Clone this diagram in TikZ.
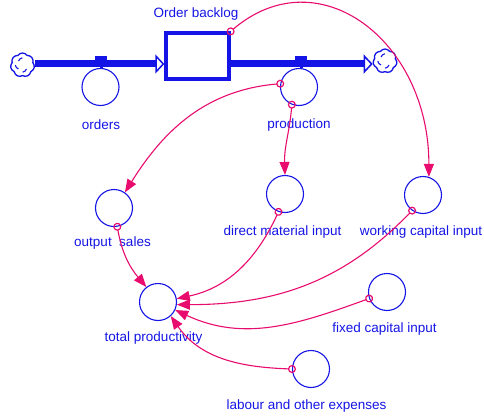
\documentclass[tikz,border=0pt]{standalone}
\usepackage{fontspec}
\setmainfont{Liberation Sans}
\usetikzlibrary{arrows.meta,shapes.symbols}
\definecolor{vblue}{RGB}{20,20,230}
\definecolor{vpink}{RGB}{232,12,110}
\begin{document}
\begin{tikzpicture}[x=1pt,y=1pt,
  aux/.style={circle,draw=vblue,line width=1.1pt,minimum size=37pt,inner sep=0pt},
  lbl/.style={text=vblue,font=\fontsize{13.5}{16}\selectfont,inner sep=0pt},
  link/.style={draw=vpink,line width=1.1pt,shorten <=-4pt,
    {Circle[open,length=8pt,width=8pt,line width=1.2pt]}-{Triangle[length=13pt,width=10pt]}},
  pipe/.style={draw=vblue,line width=7pt,-{Triangle[open,length=9pt,width=19pt,line width=1.5pt,fill=white]}},
  cloudsym/.style={cloud,cloud puffs=7,cloud puff arc=110,aspect=1,draw=vblue,line width=1.3pt,minimum width=24pt,minimum height=24pt,inner sep=3pt},
  swirl/.style={vblue,line width=1.1pt},
  valve/.style={fill=vblue,minimum width=12pt,minimum height=5pt,inner sep=0pt},
  stock/.style={draw=vblue,line width=3.3pt,minimum width=63pt,minimum height=46pt,inner sep=0pt}
]
\useasboundingbox (0,0) rectangle (484,-417);

% stock and sources/sinks
\node[stock] (backlog) at (197.5,-56) {};
\node[cloudsym] (srcL) at (22.5,-65) {};
\node[cloudsym] (srcR) at (385,-61) {};
\foreach \c in {srcL,srcR}{
  \draw[swirl] ([shift={(-4,4)}]\c.center) arc[start angle=160,end angle=100,radius=5];
  \draw[swirl] ([shift={(4,-4)}]\c.center) arc[start angle=-20,end angle=-80,radius=5];
  \draw[swirl] ([shift={(-4,-4)}]\c.center) arc[start angle=250,end angle=190,radius=5];
}

% pipes
\draw[pipe] (srcL.east |- 0,-64) -- (backlog.west |- 0,-64);
\draw[pipe] (backlog.east |- 0,-64) -- (srcR.west |- 0,-64);

% auxiliaries
\node[aux] (orders) at (100.5,-87) {};
\node[aux] (prod) at (299,-87) {};
\node[aux] (sales) at (114,-208) {};
\node[aux] (dmi) at (285,-194) {};
\node[aux] (wci) at (423,-195) {};
\node[aux] (fci) at (387,-292) {};
\node[aux] (labour) at (311,-369) {};
\node[aux] (tp) at (158,-302) {};

% valves
\node[valve] (valveL) at (101,-58.5) {};
\node[valve] (valveR) at (301,-58.5) {};
\draw[vblue,line width=3pt] (valveL.south) -- (valveL.south |- orders.north);
\draw[vblue,line width=3pt] (valveR.south) -- (valveR.south |- prod.north);

% labels
\node[lbl] (lbacklog) at (196,-14) {Order backlog};
\node[lbl] (lorders) at (101,-125) {orders};
\node[lbl] (lprod) at (299,-125) {production};
\node[lbl] (lsales) at (112.5,-243.5) {output~~sales};
\node[lbl] (ldmi) at (282.5,-232) {direct material input};
\node[lbl] (lwci) at (421,-232) {working capital input};
\node[lbl] (lfci) at (384.5,-329) {fixed capital input};
\node[lbl] (llabour) at (306.5,-406) {labour and other expenses};
\node[lbl] (ltp) at (153.5,-338) {total productivity};

% connectors
\draw[link] (backlog.north east) .. controls +(88,75) and +(0,136) .. (wci.72);
\draw[link] (prod.170) to[out=185,in=58] (sales.55);
\draw[link] (prod.248) to[out=-95,in=92] (dmi.north);
\draw[link] (sales.280) to[out=-80,in=130] (tp.128);
\draw[link] (dmi.250) to[out=-115,in=12] (tp.10);
\draw[link] (wci.235) to[out=-134,in=0] (tp.-8);
\draw[link] (fci.200) to[out=200,in=-25] (tp.-25);
\draw[link] (labour.180) to[out=178,in=-55] (tp.-48);
\end{tikzpicture}
\end{document}
